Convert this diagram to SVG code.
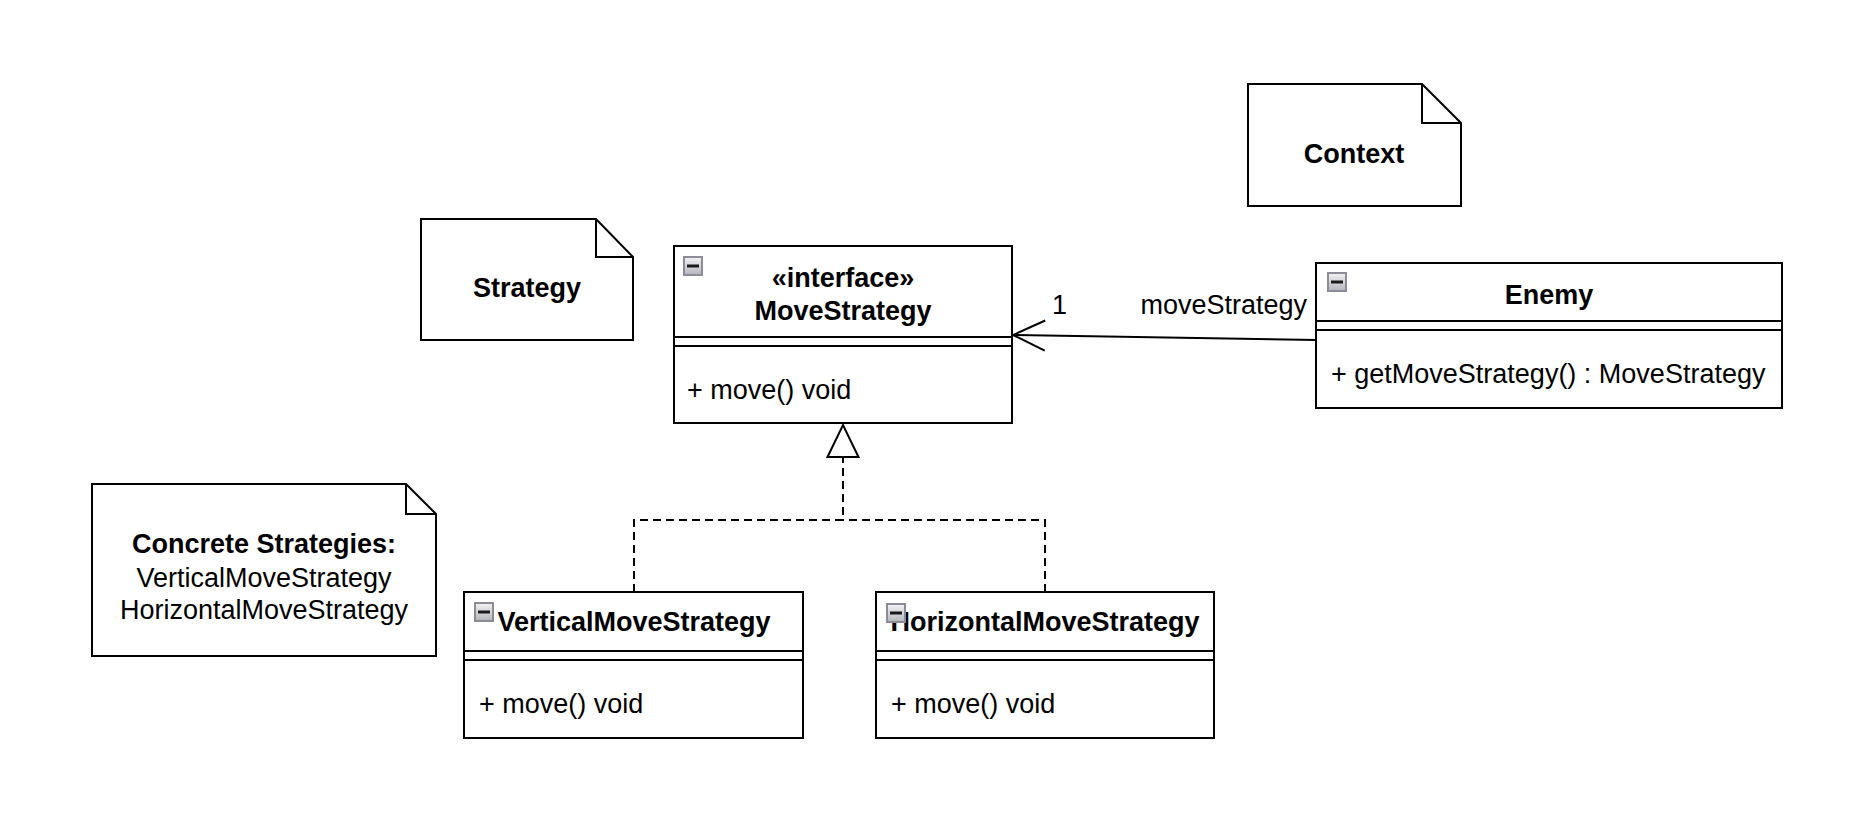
<svg xmlns="http://www.w3.org/2000/svg" width="1858" height="826" viewBox="0 0 1858 826">
  <style>
    .box { fill: #ffffff; stroke: #000000; stroke-width: 2; }
    .sep { fill: none; stroke: #000000; stroke-width: 2; }
    .t { font-family: "Liberation Sans", Arial, sans-serif; font-size: 27px; fill: #000000; }
    .b { font-weight: bold; }
    .c { text-anchor: middle; }
    .conn { fill: none; stroke: #000000; stroke-width: 2; }
    .dash { stroke-dasharray: 8 5; }
  </style>
  <defs>
    <linearGradient id="ig" x1="0" y1="0" x2="0" y2="1">
      <stop offset="0" stop-color="#f4f4f6"/>
      <stop offset="1" stop-color="#b4b4bc"/>
    </linearGradient>
    <symbol id="collapse" viewBox="0 0 20 20" width="20" height="20">
      <rect x="1" y="1" width="18" height="18" fill="url(#ig)" stroke="#8c8c98" stroke-width="2"/>
      <rect x="4" y="8.5" width="12" height="3" fill="#1a1a1a"/>
    </symbol>
    <marker id="openArrow" markerUnits="userSpaceOnUse" markerWidth="40" markerHeight="40" viewBox="-2 -2 40 40" refX="32" refY="15" orient="auto" overflow="visible">
      <path d="M 0 0 L 32 15 L 0 30" fill="none" stroke="#000000" stroke-width="2" stroke-dasharray="none"/>
    </marker>
    <marker id="hollowTri" markerUnits="userSpaceOnUse" markerWidth="40" markerHeight="40" viewBox="-2 -2 40 40" refX="32" refY="15.5" orient="auto" overflow="visible">
      <path d="M 0 0 L 32 15.5 L 0 31 Z" fill="#ffffff" stroke="#000000" stroke-width="2" stroke-dasharray="none"/>
    </marker>
  </defs>
  <rect x="0" y="0" width="1858" height="826" fill="#ffffff"/>

  <g id="connectors">
    <path class="conn" d="M 1316 340 L 1013 335" marker-end="url(#openArrow)"/>
    <path class="conn dash" d="M 634 592 V 520 H 843 V 425" marker-end="url(#hollowTri)"/>
    <path class="conn dash" d="M 1045 592 V 520 H 843"/>
    <text class="t" x="1052" y="314">1</text>
    <text class="t" x="1307" y="314" text-anchor="end">moveStrategy</text>
  </g>

  <g id="note-context">
    <path class="box" d="M 1248 84 H 1422 L 1461 123 V 206 H 1248 Z"/>
    <path class="sep" d="M 1422 84 V 123 H 1461"/>
    <text class="t b c" x="1354" y="163">Context</text>
  </g>

  <g id="note-strategy">
    <path class="box" d="M 421 219 H 596 L 633 257 V 340 H 421 Z"/>
    <path class="sep" d="M 596 219 V 257 H 633"/>
    <text class="t b c" x="527" y="297">Strategy</text>
  </g>

  <g id="note-concrete">
    <path class="box" d="M 92 484 H 406 L 436 514 V 656 H 92 Z"/>
    <path class="sep" d="M 406 484 V 514 H 436"/>
    <text class="t b c" x="264" y="553">Concrete Strategies:</text>
    <text class="t c" x="264" y="587">VerticalMoveStrategy</text>
    <text class="t c" x="264" y="619">HorizontalMoveStrategy</text>
  </g>

  <g id="class-movestrategy">
    <rect class="box" x="674" y="246" width="338" height="177"/>
    <path class="sep" d="M 674 337 H 1012 M 674 346 H 1012"/>
    <use href="#collapse" x="683" y="256"/>
    <text class="t b c" x="843" y="287">«interface»</text>
    <text class="t b c" x="843" y="320">MoveStrategy</text>
    <text class="t" x="687" y="399">+ move() void</text>
  </g>

  <g id="class-enemy">
    <rect class="box" x="1316" y="263" width="466" height="145"/>
    <path class="sep" d="M 1316 321 H 1782 M 1316 330 H 1782"/>
    <use href="#collapse" x="1327" y="272"/>
    <text class="t b c" x="1549" y="304">Enemy</text>
    <text class="t" x="1331" y="383">+ getMoveStrategy() : MoveStrategy</text>
  </g>

  <g id="class-vertical">
    <rect class="box" x="464" y="592" width="339" height="146"/>
    <path class="sep" d="M 464 651 H 803 M 464 660 H 803"/>
    <text class="t b c" x="634" y="631">VerticalMoveStrategy</text>
    <use href="#collapse" x="474" y="602"/>
    <text class="t" x="479" y="713">+ move() void</text>
  </g>

  <g id="class-horizontal">
    <rect class="box" x="876" y="592" width="338" height="146"/>
    <path class="sep" d="M 876 651 H 1214 M 876 660 H 1214"/>
    <text class="t b c" x="1045" y="631">HorizontalMoveStrategy</text>
    <use href="#collapse" x="886" y="603"/>
    <text class="t" x="891" y="713">+ move() void</text>
  </g>
</svg>
